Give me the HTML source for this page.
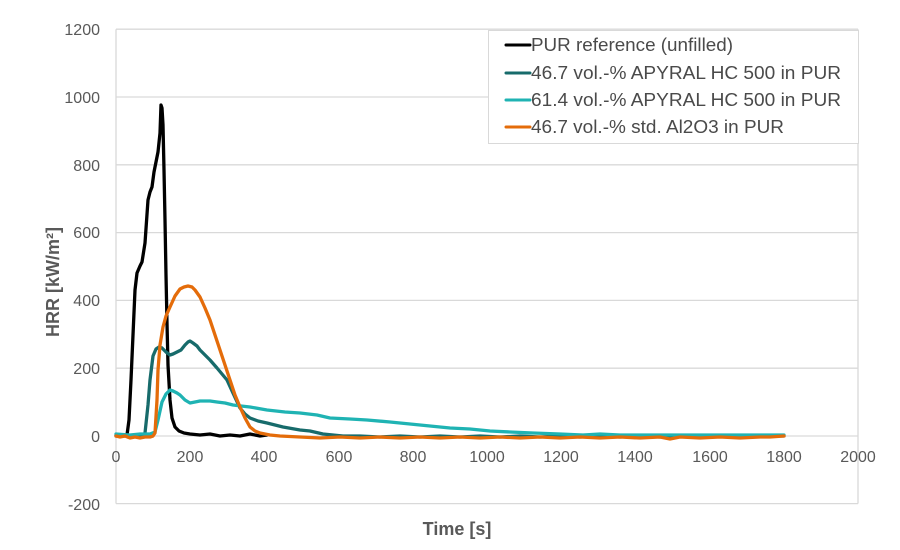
<!DOCTYPE html>
<html>
<head>
<meta charset="utf-8">
<style>
  html,body{margin:0;padding:0;background:#fff;}
  svg{display:block;}
  text{font-family:"Liberation Sans",Arial,sans-serif;}
</style>
</head>
<body>
<svg width="900" height="550" viewBox="0 0 900 550" xmlns="http://www.w3.org/2000/svg">
  <rect x="0" y="0" width="900" height="550" fill="#fff"/>
  <!-- gridlines -->
  <g stroke="#d9d9d9" stroke-width="1.3" fill="none">
    <line x1="116" y1="29.2" x2="858" y2="29.2"/>
    <line x1="116" y1="97" x2="858" y2="97"/>
    <line x1="116" y1="164.8" x2="858" y2="164.8"/>
    <line x1="116" y1="232.6" x2="858" y2="232.6"/>
    <line x1="116" y1="300.4" x2="858" y2="300.4"/>
    <line x1="116" y1="368.2" x2="858" y2="368.2"/>
    <line x1="116" y1="436" x2="858" y2="436"/>
    <line x1="116" y1="503.6" x2="858" y2="503.6"/>
    <line x1="116" y1="29.2" x2="116" y2="503.6"/>
    <line x1="858" y1="29.2" x2="858" y2="503.6"/>
  </g>
  <!-- y tick labels -->
  <g fill="#595959" font-size="16" text-anchor="end">
    <text x="100" y="35">1200</text>
    <text x="100" y="103">1000</text>
    <text x="100" y="171">800</text>
    <text x="100" y="238">600</text>
    <text x="100" y="306">400</text>
    <text x="100" y="374">200</text>
    <text x="100" y="442">0</text>
    <text x="100" y="510">-200</text>
  </g>
  <!-- x tick labels -->
  <g fill="#595959" font-size="16" text-anchor="middle">
    <text x="116" y="462">0</text>
    <text x="190" y="462">200</text>
    <text x="264" y="462">400</text>
    <text x="339" y="462">600</text>
    <text x="413" y="462">800</text>
    <text x="487" y="462">1000</text>
    <text x="561" y="462">1200</text>
    <text x="635" y="462">1400</text>
    <text x="710" y="462">1600</text>
    <text x="784" y="462">1800</text>
    <text x="858" y="462">2000</text>
  </g>
  <!-- axis titles -->
  <text x="457" y="535" fill="#595959" font-size="18" font-weight="bold" text-anchor="middle">Time [s]</text>
  <text transform="translate(59,282) rotate(-90)" fill="#595959" font-size="18" font-weight="bold" text-anchor="middle">HRR [kW/m²]</text>

  <!-- series -->
  <g fill="none" stroke-width="3.3" stroke-linejoin="round" stroke-linecap="round">
    <!-- black PUR reference -->
    <polyline stroke="#000" points="116,436 120,435 124,436 127,435 129,420 131,380 133,335 135,290 137,273 140,266 142,262 145,243 148,200 150,192 152,187 154,172 156,162 158,152 160,133 161,105 162,108 163,125 164,170 165,220 166,275 167,323 168,365 170,400 172,418 175,427 179,431 184,433 190,434 200,435 210,434 220,436 230,435 240,436 250,434 260,436 267,435"/>
    <!-- dark teal 46.7 APYRAL -->
    <polyline stroke="#176b6b" points="116,435 125,436 135,435 142,436 145,433 148,405 150,380 153,356 156,349 159,347 162,348 166,352 170,355 173,354 177,352 181,350 185,345 188,342 190,341 193,343 197,346 200,350 205,355 210,360 217,368 222,374 227,380 233,393 240,408 245,414 250,418 258,421 267,423 275,425 283,427 300,430 310,431 323,434 343,436 360,436 380,437 400,436 420,437 440,436 460,437 480,436 500,437 520,436 540,437 560,436 580,437 600,436 620,437 640,436 660,437 680,436 700,437 720,436 740,437 760,436 784,436"/>
    <!-- cyan 61.4 APYRAL -->
    <polyline stroke="#1fb3b3" points="116,434 130,435 140,434 150,434 155,432 158,420 162,402 166,394 170,390 173,391 177,393 180,395 185,400 190,403 195,402 200,401 210,401 217,402 225,403 233,405 241,406 250,407 267,410 285,412 300,413 317,415 330,418 350,419 367,420 390,422 410,424 430,426 450,428 470,429 490,431 510,432 533,433 560,434 583,435 600,434 620,435 650,435 700,435 740,435 784,435"/>
    <!-- orange std Al2O3 -->
    <polyline stroke="#e46c0a" points="116,436 120,437 125,436 130,438 135,437 140,438 145,437 150,437 153,436 155,433 157,400 158,370 160,345 163,327 166,316 170,307 175,296 180,289 184,287 188,286 192,287 195,290 200,297 205,308 210,320 215,335 220,350 225,365 230,380 235,395 240,407 245,418 250,427 255,431 260,433 270,435 280,436 300,437 320,438 340,437 360,438 380,437 400,438 420,437 440,438 460,437 480,438 500,437 520,438 540,437 560,438 580,437 600,438 620,437 640,438 660,437 670,439 680,437 700,438 720,437 740,438 760,437 770,437 784,436"/>
  </g>

  <!-- legend -->
  <rect x="488.5" y="30.5" width="370" height="113" fill="#fff" stroke="#d9d9d9" stroke-width="1"/>
  <g stroke-width="3" stroke-linecap="round">
    <line x1="506" y1="45" x2="530" y2="45" stroke="#000"/>
    <line x1="506" y1="73" x2="530" y2="73" stroke="#176b6b"/>
    <line x1="506" y1="100" x2="530" y2="100" stroke="#1fb3b3"/>
    <line x1="506" y1="127" x2="530" y2="127" stroke="#e46c0a"/>
  </g>
  <g fill="#4a4a4a" font-size="18">
    <text x="531" y="51" textLength="202" lengthAdjust="spacingAndGlyphs">PUR reference (unfilled)</text>
    <text x="531" y="79" textLength="310" lengthAdjust="spacingAndGlyphs">46.7 vol.-% APYRAL HC 500 in PUR</text>
    <text x="531" y="106" textLength="310" lengthAdjust="spacingAndGlyphs">61.4 vol.-% APYRAL HC 500 in PUR</text>
    <text x="531" y="133" textLength="253" lengthAdjust="spacingAndGlyphs">46.7 vol.-% std. Al2O3 in PUR</text>
  </g>
</svg>
</body>
</html>
